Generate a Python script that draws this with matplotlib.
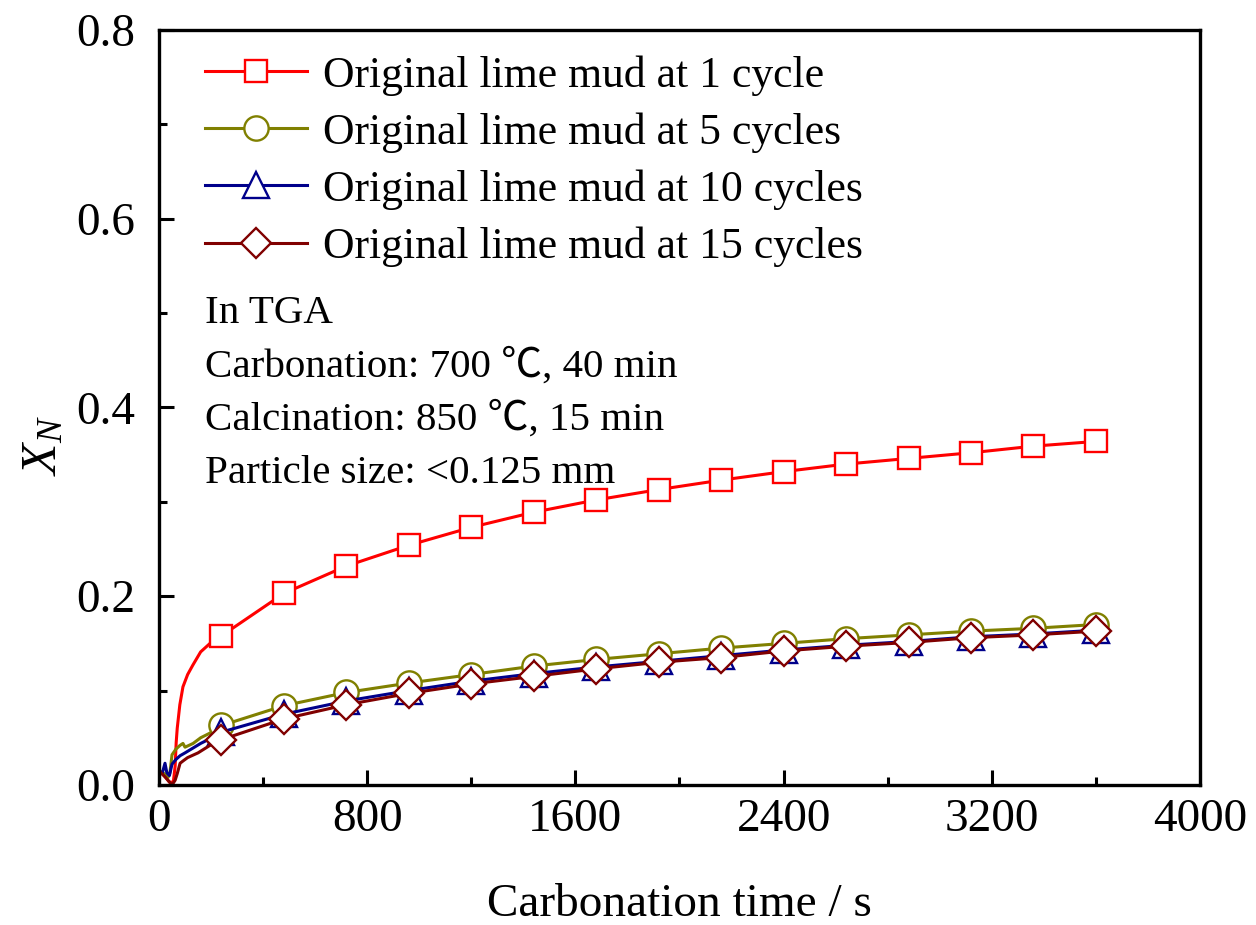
import numpy as np
import matplotlib
matplotlib.use('Agg')
from matplotlib import pyplot as plt

plt.rcParams['font.family'] = ['Liberation Serif', 'Noto Sans CJK SC']
plt.rcParams['mathtext.fontset'] = 'custom'
plt.rcParams['mathtext.rm'] = 'Liberation Serif'
plt.rcParams['mathtext.it'] = 'Liberation Serif:italic'

# carbonation time (s): start-up section, then every 240 s where markers sit
t_1 = [0, 20, 40, 55, 62, 66, 70, 80, 92, 110, 130, 160, 200]
x_1 = [0.015, 0.010, 0.003, 0.003, 0.020, 0.045, 0.060, 0.085, 0.104, 0.117, 0.127, 0.141, 0.151]
t_5 = [0, 20, 35, 42, 50, 65, 81, 92, 100, 131, 160, 196]
x_5 = [0.015, 0.012, 0.008, 0.013, 0.032, 0.038, 0.042, 0.044, 0.040, 0.044, 0.050, 0.055]
t_10 = [0, 12, 23, 30, 40, 50, 65, 81, 100, 130, 160, 196]
x_10 = [0.015, 0.012, 0.023, 0.013, 0.010, 0.022, 0.027, 0.031, 0.034, 0.039, 0.044, 0.049]
t_15 = [0, 25, 50, 62, 70, 81, 95, 110, 150, 196]
x_15 = [0.015, 0.008, 0.000, 0.005, 0.012, 0.023, 0.026, 0.029, 0.034, 0.042]

t_mark = [240, 480, 720, 960, 1200, 1440, 1680, 1920, 2160, 2400, 2640, 2880, 3120, 3360, 3600]
m_1 = [0.158, 0.203, 0.232, 0.254, 0.273, 0.289, 0.302, 0.313, 0.323, 0.332, 0.340, 0.346, 0.352, 0.359, 0.364]
m_5 = [0.063, 0.084, 0.098, 0.108, 0.117, 0.126, 0.133, 0.139, 0.145, 0.150, 0.155, 0.159, 0.163, 0.166, 0.170]
m_10 = [0.056, 0.075, 0.089, 0.100, 0.110, 0.118, 0.125, 0.131, 0.137, 0.143, 0.148, 0.152, 0.157, 0.160, 0.164]
m_15 = [0.048, 0.070, 0.085, 0.097, 0.107, 0.115, 0.123, 0.130, 0.135, 0.142, 0.147, 0.151, 0.156, 0.159, 0.163]

labels = ['Original lime mud at 1 cycle', 'Original lime mud at 5 cycles',
          'Original lime mud at 10 cycles', 'Original lime mud at 15 cycles']
colors = ['#ff0000', '#808000', '#00008b', '#800000']
markers = ['s', 'o', '^', 'D']
sizes = [15.5, 17.5, 19, 15.5]

fig = plt.figure(figsize=(12.56, 9.25), dpi=100)
ax = fig.add_axes([0.1266, 0.1514, 0.8288, 0.8162])

series = [(t_1, x_1, m_1), (t_5, x_5, m_5), (t_10, x_10, m_10), (t_15, x_15, m_15)]
for (te, xe, xm), lab, c, mk, ms in zip(series, labels, colors, markers, sizes):
    t = te + t_mark
    x = xe + xm
    ax.plot(t, x, color=c, lw=2.2, marker=mk, markevery=list(range(len(te), len(t))),
            ms=ms, mfc='white', mec=c, mew=1.7, label=lab)

ax.set_xlim(0, 4000)
ax.set_ylim(0, 0.8)
ax.set_xticks([0, 800, 1600, 2400, 3200, 4000])
ax.set_yticks([0.0, 0.2, 0.4, 0.6, 0.8])
ax.set_xticks(np.arange(400, 4000, 800), minor=True)
ax.set_yticks(np.arange(0.1, 0.8, 0.2), minor=True)
ax.tick_params(which='major', direction='in', length=11, width=2.2, labelsize=34)
ax.tick_params(which='minor', direction='in', length=5.5, width=2.2)
ax.tick_params(axis='x', pad=10)
ax.tick_params(axis='y', pad=17)
ax.tick_params(top=False, right=False)
ax.yaxis.set_major_formatter(matplotlib.ticker.FormatStrFormatter('%.1f'))
for s in ax.spines.values():
    s.set_linewidth(2.4)

ax.set_xlabel('Carbonation time / s', fontsize=34, labelpad=30)
ax.set_ylabel(r'$X_N$', fontsize=37)
ax.yaxis.set_label_coords(-0.088, 0.45)

leg = ax.legend(loc='upper left', bbox_to_anchor=(0.027, 0.99), frameon=False, fontsize=31.5,
                handlelength=2.35, handletextpad=0.35, labelspacing=0.38, borderaxespad=0.0,
                markerscale=1.0)

notes = ['In TGA', 'Carbonation: 700 ℃, 40 min', 'Calcination: 850 ℃, 15 min',
         'Particle size: <0.125 mm']
for i, s in enumerate(notes):
    ax.text(0.044, 0.624 - i * 0.0705, s, transform=ax.transAxes, fontsize=29.5,
            va='center', ha='left')

fig.savefig('out.png', dpi=100)
